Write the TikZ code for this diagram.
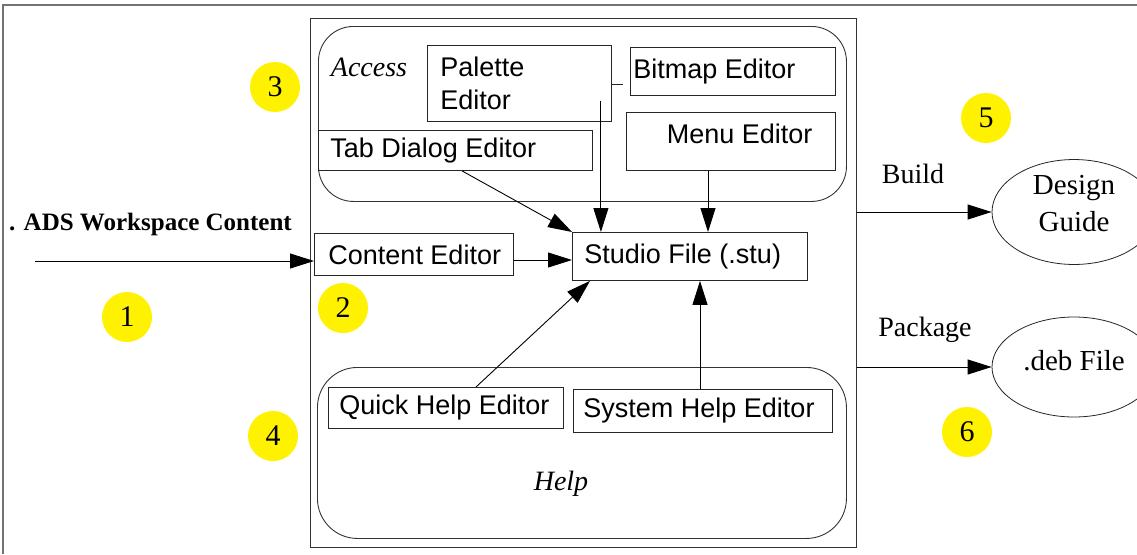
\documentclass[tikz,border=0pt]{standalone}
\usepackage{fontspec}
\setmainfont{Liberation Serif}
\newfontfamily\hvfont{Liberation Sans}
\usetikzlibrary{arrows.meta,shapes.geometric}
\begin{document}
\begin{tikzpicture}[x=1pt,y=-1pt,
 box/.style={draw=black!85,line width=0.9pt,anchor=north west,font=\hvfont\fontsize{27}{33}\selectfont,align=flush left,inner ysep=0pt,execute at begin node={\hyphenpenalty=10000\relax}},
 grp/.style={draw=black!80,line width=0.9pt,anchor=north west,inner sep=0pt},
 arr/.style={draw=black,line width=0.9pt,-{Triangle[length=24pt,width=15pt]}},
 num/.style={circle,fill=yellow,minimum size=50pt,inner sep=0pt,font=\fontsize{30}{32}\selectfont},
 ser/.style={font=\fontsize{28}{32}\selectfont,inner sep=0pt},
 ital/.style={font=\itshape\fontsize{28}{32}\selectfont,inner sep=0pt},
 oval/.style={ellipse,draw=black!85,line width=0.8pt,minimum width=164pt,minimum height=100pt,align=center,inner sep=0pt,font=\fontsize{29}{37}\selectfont}
]
\useasboundingbox (0,0) rectangle (1137,554);
\clip (0,0) rectangle (1137,554);
\fill[white] (0,0) rectangle (1137,554);
% outer frame
\draw[black!55,line width=2pt] (3,554) -- (3,5) -- (1137,5);
% main container and groups
\node[grp,minimum width=546pt,minimum height=529pt] (main) at (310,18) {};
\node[grp,rounded corners=35pt,minimum width=528pt,minimum height=175pt] (access) at (318,26) {};
\node[grp,rounded corners=40pt,minimum width=529pt,minimum height=171pt] (help) at (317,367) {};
\node[ital] (accl) at (369,67) {Access};
\node[ital] (helpl) at (561,484) {Help};
% boxes
\node[box,inner xsep=13pt,text width=158pt,minimum height=76pt] (pal) at (427,45) {Palette\\Editor};
\node[box,inner xsep=3pt,text width=199pt,minimum height=48pt] (bitmap) at (630,47) {\mbox{Bitmap Editor}};
\node[box,inner xsep=12pt,text width=250pt,minimum height=40pt] (tab) at (318,130) {\mbox{Tab Dialog Editor}};
\node[box,align=flush right,inner xsep=23pt,text width=163pt,minimum height=58pt,text depth=16pt] (menu) at (626,112) {\mbox{Menu Editor}};
\node[box,inner xsep=14pt,text width=171pt,minimum height=42pt] (content) at (314,233) {\mbox{Content Editor}};
\node[box,inner xsep=12pt,text width=211pt,minimum height=48pt] (studio) at (572,232) {\mbox{Studio File (.stu)}};
\node[box,inner xsep=11pt,text width=213pt,minimum height=41pt] (quick) at (328,387) {\mbox{Quick Help Editor}};
\node[box,inner xsep=10pt,text width=239pt,minimum height=43pt] (system) at (573,389) {\mbox{System Help Editor}};
% outputs
\node[oval,text depth=18pt] (design) at (1074,212) {Design\\Guide};
\node[oval,text depth=14pt] (deb) at (1074,367) {.deb File};
\node[ser] (build) at (913,174) {Build};
\node[ser] (package) at (925,330) {Package};
\node[font=\bfseries\fontsize{25}{30}\selectfont,inner sep=0pt,anchor=east] (ads) at (292,224) {. ADS Workspace Content};
% numbers
\node[num] (n1) at (127,317) {1};
\node[num] (n2) at (343,308) {2};
\node[num] (n3) at (275,87) {3};
\node[num] (n4) at (273,436) {4};
\node[num] (n5) at (986,118) {5};
\node[num] (n6) at (967,432) {6};
% connectors
\coordinate (wsin) at (35,261);
\draw[arr] (wsin) -- (wsin -| content.west);
\draw[arr] (content.east |- 0,260) -- (studio.west |- 0,260);
\draw[arr] (tab.south -| 462,0) -- (studio.north west);
\coordinate (palx) at ([xshift=-11pt,yshift=21pt]pal.south east);
\draw[arr] (palx) -- (palx |- studio.north);
\draw[arr] (menu.south -| 708,0) -- (studio.north -| 708,0);
\draw[black!85,line width=0.9pt,shorten >=7pt] (pal.east |- 0,84) -- (bitmap.west |- 0,84);
\draw[arr] (quick.north -| 476,0) -- (studio.south -| 590,0);
\draw[arr] (system.north -| 700,0) -- (studio.south -| 700,0);
\draw[arr] (main.east |- design.west) -- (design.west);
\draw[arr] (main.east |- deb.west) -- (deb.west);
\end{tikzpicture}
\end{document}
